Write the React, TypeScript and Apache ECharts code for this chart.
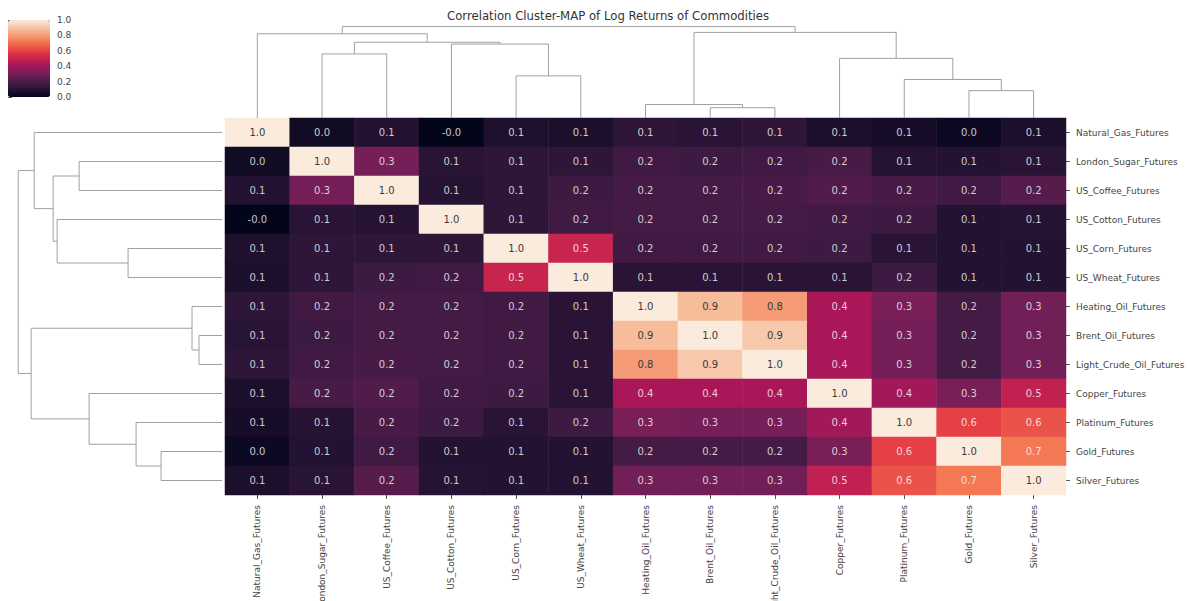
import { useEffect, useRef } from 'react';
import * as echarts from 'echarts';

const labels = [
  'Natural_Gas_Futures',
  'London_Sugar_Futures',
  'US_Coffee_Futures',
  'US_Cotton_Futures',
  'US_Corn_Futures',
  'US_Wheat_Futures',
  'Heating_Oil_Futures',
  'Brent_Oil_Futures',
  'Light_Crude_Oil_Futures',
  'Copper_Futures',
  'Platinum_Futures',
  'Gold_Futures',
  'Silver_Futures',
];

// correlation matrix, rows in the clustered order (same order as columns)
const corrRows: number[][] = [
  [1.0, 0.04, 0.09, -0.02, 0.08, 0.07, 0.12, 0.11, 0.12, 0.07, 0.06, 0.03, 0.07],
  [0.04, 1.0, 0.3, 0.11, 0.12, 0.12, 0.17, 0.16, 0.17, 0.19, 0.1, 0.09, 0.11],
  [0.09, 0.3, 1.0, 0.1, 0.12, 0.16, 0.18, 0.18, 0.19, 0.21, 0.19, 0.17, 0.22],
  [-0.02, 0.11, 0.1, 1.0, 0.12, 0.17, 0.18, 0.18, 0.18, 0.17, 0.16, 0.09, 0.1],
  [0.08, 0.12, 0.12, 0.12, 1.0, 0.5, 0.17, 0.17, 0.17, 0.16, 0.11, 0.09, 0.09],
  [0.07, 0.12, 0.16, 0.17, 0.5, 1.0, 0.11, 0.11, 0.11, 0.11, 0.16, 0.09, 0.09],
  [0.12, 0.17, 0.18, 0.18, 0.17, 0.11, 1.0, 0.88, 0.8, 0.42, 0.31, 0.18, 0.29],
  [0.11, 0.16, 0.18, 0.18, 0.17, 0.11, 0.88, 1.0, 0.91, 0.42, 0.3, 0.18, 0.29],
  [0.12, 0.17, 0.19, 0.18, 0.17, 0.11, 0.8, 0.91, 1.0, 0.42, 0.3, 0.18, 0.29],
  [0.07, 0.19, 0.21, 0.17, 0.16, 0.11, 0.42, 0.42, 0.42, 1.0, 0.4, 0.31, 0.48],
  [0.06, 0.1, 0.19, 0.16, 0.11, 0.16, 0.31, 0.3, 0.3, 0.4, 1.0, 0.6, 0.64],
  [0.03, 0.09, 0.17, 0.09, 0.09, 0.09, 0.18, 0.18, 0.18, 0.31, 0.6, 1.0, 0.72],
  [0.07, 0.11, 0.22, 0.1, 0.09, 0.09, 0.29, 0.29, 0.29, 0.48, 0.64, 0.72, 1.0],
];

// hierarchical linkage: [childA, childB, distance]; ids 0..12 are leaves, 13+ are merges
const merges: [number, number, number][] = [
  [7, 8, 0.23],
  [6, 13, 0.3],
  [11, 12, 0.61],
  [10, 15, 0.86],
  [4, 5, 0.94],
  [9, 16, 1.33],
  [1, 2, 1.43],
  [3, 17, 1.65],
  [19, 20, 1.69],
  [0, 21, 1.88],
  [14, 18, 1.91],
  [22, 23, 2.04],
];

const colorbarTicks = [0, 0.2, 0.4, 0.6, 0.8, 1.0];
const rocket = ['#03051A', '#35193E', '#701F57', '#AD1759', '#E13342', '#F37651', '#F6B48F', '#FAEBDD'];

const FONT = 'DejaVu Sans';

function dendroSegments(): number[][][] {
  const pos: number[] = labels.map((_, i) => i + 0.5);
  const hgt: number[] = labels.map(() => 0);
  const segs: number[][][] = [];
  merges.forEach(([a, b, h]) => {
    segs.push([
      [pos[a], hgt[a]],
      [pos[a], h],
      [pos[b], h],
      [pos[b], hgt[b]],
    ]);
    pos.push((pos[a] + pos[b]) / 2);
    hgt.push(h);
  });
  return segs;
}

export default function App() {
  const ref = useRef<HTMLDivElement>(null);

  useEffect(() => {
    if (!ref.current) return;
    const chart = echarts.init(ref.current, undefined, { renderer: 'svg' });
    const segs = dendroSegments();
    const maxH = merges[merges.length - 1][2] * 1.05;
    const n = labels.length;

    const heatData: any[] = [];
    corrRows.forEach((row, r) => {
      row.forEach((v, c) => {
        heatData.push({
          value: [c, r, v],
          label: { color: v > 0.75 ? '#3a3a3a' : 'rgba(255,255,255,0.78)' },
        });
      });
    });

    const lineStyle = { color: '#a0a0a0', width: 1, opacity: 1 };
    const gridBase = { outerBoundsMode: 'none', containLabel: false };

    chart.setOption({
      animation: false,
      backgroundColor: '#ffffff',
      title: {
        text: 'Correlation Cluster-MAP of Log Returns of Commodities',
        left: 442,
        top: 5,
        textStyle: { fontSize: 11.7, fontWeight: 'normal', color: '#333', fontFamily: FONT },
      },
      grid: [
        { ...gridBase, left: 225, top: 118, width: 841, height: 377 },
        { ...gridBase, left: 225, top: 22, width: 841, height: 96 },
        { ...gridBase, left: 8, top: 118, width: 214, height: 377 },
        { ...gridBase, left: 8, top: 20, width: 42, height: 77 },
      ],
      xAxis: [
        {
          type: 'category',
          gridIndex: 0,
          data: labels,
          position: 'bottom',
          axisLine: { show: false },
          axisTick: { show: true, alignWithLabel: true, length: 4, lineStyle: { color: '#555' } },
          axisLabel: { rotate: 90, interval: 0, fontSize: 9, color: '#444', margin: 10, fontFamily: FONT },
          splitLine: { show: false },
        },
        { type: 'value', gridIndex: 1, min: 0, max: n, show: false },
        { type: 'value', gridIndex: 2, min: 0, max: maxH, inverse: true, show: false },
        { type: 'value', gridIndex: 3, min: 0, max: 1, show: false },
      ],
      yAxis: [
        {
          type: 'category',
          gridIndex: 0,
          data: labels,
          inverse: true,
          position: 'right',
          axisLine: { show: false },
          axisTick: { show: true, alignWithLabel: true, length: 4, lineStyle: { color: '#555' } },
          axisLabel: { interval: 0, fontSize: 9, color: '#444', margin: 10, fontFamily: FONT },
          splitLine: { show: false },
        },
        { type: 'value', gridIndex: 1, min: 0, max: maxH, show: false },
        { type: 'value', gridIndex: 2, min: 0, max: n, inverse: true, show: false },
        {
          type: 'value',
          gridIndex: 3,
          min: 0,
          max: 1,
          interval: 0.2,
          position: 'right',
          axisLine: { show: false },
          axisTick: { show: true, length: 4, lineStyle: { color: '#555' } },
          axisLabel: {
            fontSize: 9,
            color: '#444',
            margin: 7,
            fontFamily: FONT,
            formatter: (v: number) => (colorbarTicks.some((t) => Math.abs(t - v) < 1e-6) ? v.toFixed(1) : ''),
          },
          splitLine: { show: false },
        },
      ],
      visualMap: {
        type: 'continuous',
        min: 0,
        max: 1,
        seriesIndex: 0,
        orient: 'vertical',
        left: 8,
        top: 20,
        padding: 0,
        itemWidth: 42,
        itemHeight: 77,
        calculable: false,
        hoverLink: false,
        inRange: { color: rocket },
        outOfRange: { color: ['#03051A'] },
      },
      series: [
        {
          type: 'heatmap',
          xAxisIndex: 0,
          yAxisIndex: 0,
          data: heatData,
          label: {
            show: true,
            fontSize: 10,
            fontFamily: FONT,
            formatter: (p: any) => (p.value[2] as number).toFixed(1),
          },
          itemStyle: { borderWidth: 0 },
          emphasis: { disabled: true },
        },
        {
          type: 'lines',
          coordinateSystem: 'cartesian2d',
          xAxisIndex: 1,
          yAxisIndex: 1,
          polyline: true,
          silent: true,
          lineStyle,
          data: segs.map((s) => ({ coords: s })),
        },
        {
          type: 'lines',
          coordinateSystem: 'cartesian2d',
          xAxisIndex: 2,
          yAxisIndex: 2,
          polyline: true,
          silent: true,
          lineStyle,
          data: segs.map((s) => ({ coords: s.map(([p, h]) => [h, p]) })),
        },
      ],
    });

    return () => chart.dispose();
  }, []);

  return (
    <div
      ref={ref}
      style={{ position: 'fixed', left: 0, top: 0, width: 1189, height: 601, background: '#fff' }}
    />
  );
}
